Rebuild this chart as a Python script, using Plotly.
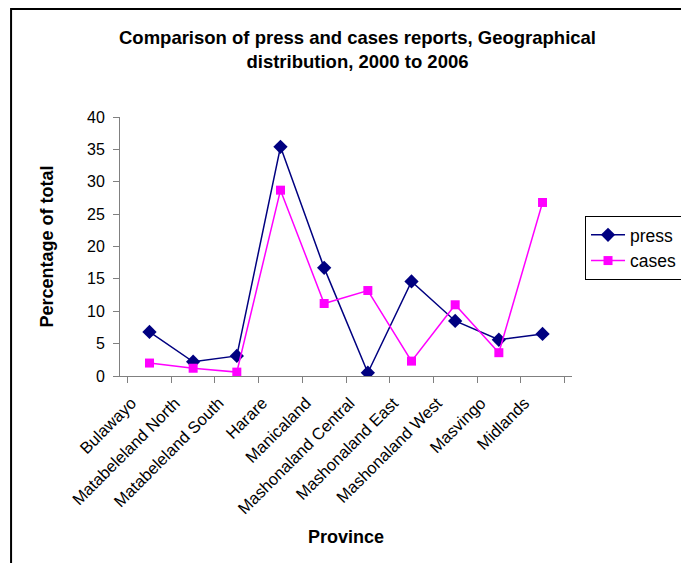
import plotly.graph_objects as go

provinces = ["Bulawayo", "Matabeleland North", "Matabeleland South", "Harare", "Manicaland",
             "Mashonaland Central", "Mashonaland East", "Mashonaland West", "Masvingo", "Midlands"]
press = [6.8, 2.2, 3.1, 35.4, 16.7, 0.5, 14.6, 8.5, 5.6, 6.5]
cases = [2.0, 1.2, 0.6, 28.7, 11.2, 13.2, 2.3, 11.0, 3.6, 26.8]

fig = go.Figure()
fig.add_trace(go.Scatter(x=provinces, y=press, name="press", mode="lines+markers",
                         line=dict(color="#000080", width=1.5),
                         marker=dict(symbol="diamond", size=11, color="#000080")))
fig.add_trace(go.Scatter(x=provinces, y=cases, name="cases", mode="lines+markers",
                         line=dict(color="#FF00FF", width=1.5),
                         marker=dict(symbol="square", size=9, color="#FF00FF")))

W, H = 681, 555
fig.update_layout(
    width=W, height=H,
    margin=dict(l=112, r=W - 564, t=109, b=H - 368, autoexpand=False),
    paper_bgcolor="white", plot_bgcolor="white",
    font=dict(family="Arial, Liberation Sans", color="black", size=14),
    title=dict(text="<b>Comparison of press and cases reports, Geographical<br>distribution, 2000 to 2006</b>",
               x=349.5 / W, xanchor="center", y=1 - 35.8 / H, yanchor="top",
               font=dict(size=18.5, family="Arial, Liberation Sans")),
    legend=dict(x=1.0288, y=0.618, xanchor="left", yanchor="top",
                bordercolor="black", borderwidth=1, bgcolor="white",
                font=dict(size=17.5), tracegroupgap=0, itemwidth=34),
    showlegend=True,
)
fig.update_xaxes(
    type="category", tickangle=-45, tickson="boundaries", ticks="outside", ticklen=6,
    tickcolor="#808080", showline=True, linecolor="#808080", linewidth=1,
    showgrid=False, tickfont=dict(size=16.5), ticklabelshift=-18, ticklabelstandoff=10,
    title=dict(text="<b>Province</b>", font=dict(size=18), standoff=13),
)
fig.update_yaxes(
    range=[0, 40], dtick=5, ticks="outside", ticklen=6, tickcolor="#808080",
    showline=True, linecolor="#808080", linewidth=1, showgrid=False, zeroline=False,
    tickfont=dict(size=16), ticklabelstandoff=5,
    title=dict(text="<b>Percentage of total</b>", font=dict(size=18), standoff=28),
)
fig.add_shape(type="rect", xref="paper", yref="paper",
              x0=-0.241, y0=-2, x1=2, y1=1.417,
              line=dict(color="black", width=2), fillcolor="rgba(0,0,0,0)", layer="below")

fig.write_html("out.html")
